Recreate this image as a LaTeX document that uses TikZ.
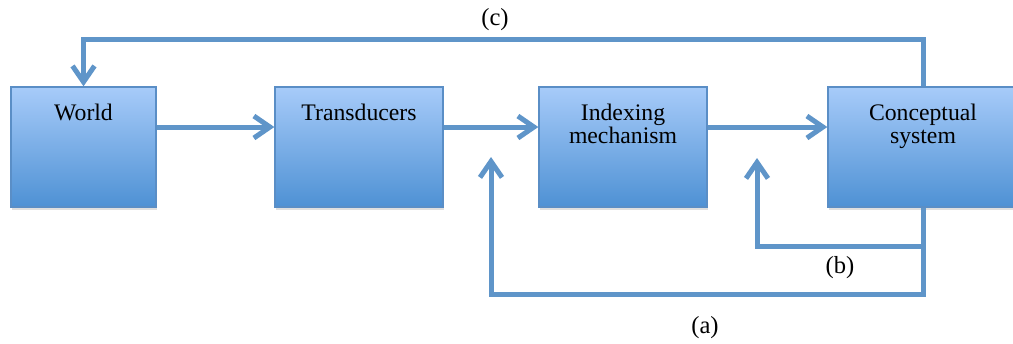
\documentclass[tikz,border=0pt]{standalone}
\usepackage{fontspec}
\setmainfont{Liberation Serif}
\usetikzlibrary{arrows.meta,shadows}
\definecolor{boxtop}{HTML}{A7CBF9}
\definecolor{boxbot}{HTML}{4E91D4}
\definecolor{boxline}{HTML}{5A8EC6}
\definecolor{flowblue}{HTML}{5F95C9}

\begin{document}
\begin{tikzpicture}[x=0.02cm,y=-0.02cm,block/.style={rectangle,draw=boxline,line width=0.8pt,top color=boxtop,bottom color=boxbot,minimum height=2.4cm,drop shadow={opacity=0.25,shadow xshift=0.6pt,shadow yshift=-1.6pt}},tag/.style={anchor=north,yshift=-0.23cm,align=center,font=\fontsize{13.5}{13}\selectfont},flow/.style={draw=flowblue,line width=0.1cm,-{Straight Barb[length=0.32cm,width=0.44cm]}},note/.style={font=\fontsize{14}{14}\selectfont}]
		\path[use as bounding box,fill=white] (0,0) rectangle (1013,343);
		\node (world)[block,minimum width=2.9cm,label={[tag]north:World}] at (83.5,147) {};
		\node (trans)[block,minimum width=3.36cm,label={[tag]north:Transducers}] at (359,147) {};
		\node (index)[block,minimum width=3.36cm,label={[tag]north:{Indexing\\mechanism}}] at (623,147) {};
		\node (concept)[block,minimum width=3.8cm,label={[tag]north:{Conceptual\\system}}] at (923,147) {};
		\coordinate (ain) at (491,157);
		\coordinate (bin) at (757,158);
		\draw[flow] ([yshift=0.4cm]world.east) -- ([yshift=0.4cm]trans.west);
		\draw[flow] ([yshift=0.4cm]trans.east) -- ([yshift=0.4cm]index.west);
		\draw[flow] ([yshift=0.4cm]index.east) -- ([yshift=0.4cm]concept.west);
		\draw[flow] (concept.north) -- ++(0,-47) -| (world.north);
		\draw[flow] (concept.south) -- ++(0,87) -| (ain);
		\draw[flow] (concept.south) ++(0,39) -| (bin);
		\node (lc)[note] at (495,20) {(c)};
		\node (lb)[note] at (840,268) {(b)};
		\node (la)[note] at (705,328) {(a)};
\end{tikzpicture}
\end{document}
